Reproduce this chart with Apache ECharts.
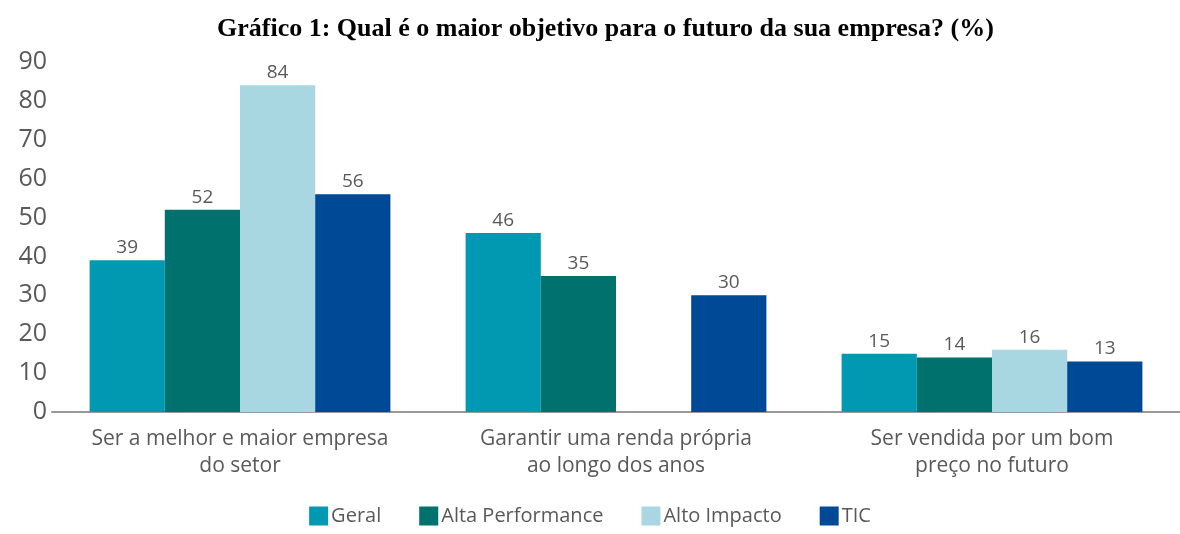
<!doctype html>
<html>
<head>
<meta charset="UTF-8">
<title>Gráfico 1</title>
<script src="https://cdn.jsdelivr.net/npm/echarts@6/dist/echarts.min.js"></script>
<style>
  html, body { margin: 0; padding: 0; background: #fff; }
  #main { width: 1180px; height: 534px; }
</style>
</head>
<body>
<div id="main"></div>
<script>
var categories = ['Ser a melhor e maior empresa\ndo setor', 'Garantir uma renda própria\nao longo dos anos', 'Ser vendida por um bom\npreço no futuro'];
var geral = [39, 46, 15];
var altaPerformance = [52, 35, 14];
var altoImpacto = [84, '-', 16];
var tic = [56, 30, 13];

var labelStyle = { show: true, position: 'top', color: '#595959', fontSize: 19, fontFamily: 'Open Sans', distance: 3 };

function bar(name, data, color) {
    return {
        name: name,
        type: 'bar',
        data: data,
        barGap: 0,
        barCategoryGap: '20%',
        itemStyle: { color: color },
        label: labelStyle
    };
}

var chart = echarts.init(document.getElementById('main'));
chart.setOption({
    animation: false,
    title: {
        text: 'Gráfico 1: Qual é o maior objetivo para o futuro da sua empresa? (%)',
        left: 212,
        top: 11,
        textStyle: { fontFamily: 'Liberation Serif', fontWeight: 'bold', fontSize: 26, color: '#000' }
    },
    legend: {
        bottom: 3,
        left: 'center',
        itemWidth: 19,
        itemHeight: 19,
        itemGap: 38,
        icon: 'rect',
        textStyle: { color: '#595959', fontSize: 20, fontFamily: 'Open Sans', padding: [0, 0, 0, -2] }
    },
    grid: { left: 52, right: 0, top: 62, bottom: 122 },
    xAxis: {
        type: 'category',
        data: categories,
        axisLine: { lineStyle: { color: '#999', width: 2 } },
        axisTick: { show: false },
        axisLabel: { interval: 0, hideOverlap: false, color: '#595959', fontSize: 21, fontFamily: 'Open Sans', lineHeight: 27, margin: 14 }
    },
    yAxis: {
        type: 'value',
        min: 0,
        max: 90,
        interval: 10,
        splitLine: { show: false },
        axisLine: { show: false },
        axisTick: { show: false },
        axisLabel: { color: '#595959', fontSize: 25, fontFamily: 'Open Sans', margin: 5, align: 'right' }
    },
    series: [
        bar('Geral', geral, '#0099b1'),
        bar('Alta Performance', altaPerformance, '#00716c'),
        bar('Alto Impacto', altoImpacto, '#a8d7e1'),
        bar('TIC', tic, '#004996')
    ]
});
</script>
</body>
</html>
